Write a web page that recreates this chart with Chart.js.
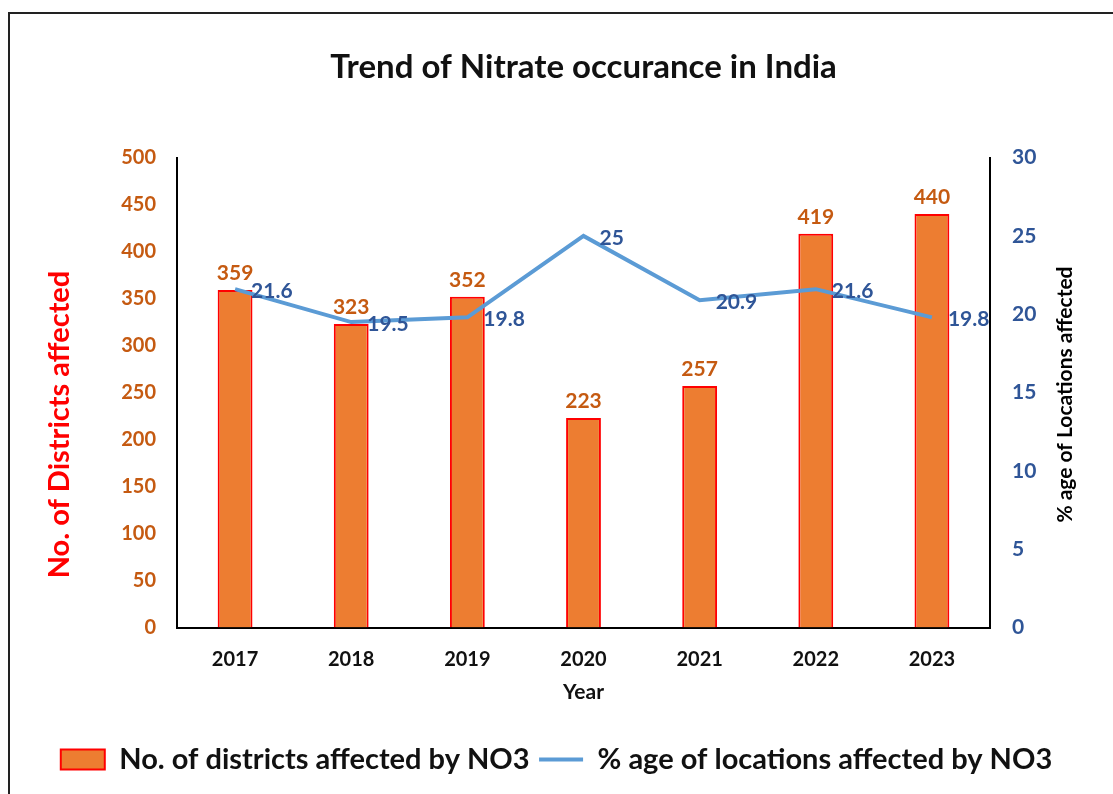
<!DOCTYPE html>
<html>
<head>
<meta charset="utf-8">
<script src="https://cdn.jsdelivr.net/npm/chart.js@4.4.1/dist/chart.umd.min.js"></script>
<style>
  html, body { margin: 0; padding: 0; background: #fff; overflow: hidden; }
  #frame { position: absolute; left: 8px; top: 12px; width: 1300px; height: 1000px; border: 2px solid #222; }
  #chart { position: absolute; left: 0; top: 0; }
</style>
</head>
<body>
<div id="frame"></div>
<canvas id="chart" width="1113" height="794"></canvas>
<script>
const years = ['2017', '2018', '2019', '2020', '2021', '2022', '2023'];
const districtsAffected = [359, 323, 352, 223, 257, 419, 440];
const locationsPct = [21.6, 19.5, 19.8, 25, 20.9, 21.6, 19.8];
const leftTicks = [0, 50, 100, 150, 200, 250, 300, 350, 400, 450, 500];
const rightTicks = [0, 5, 10, 15, 20, 25, 30];

const FONT = 'Lato, "Open Sans", sans-serif';
const ORANGE_TXT = '#C55A11';
const BLUE_TXT = '#2F5597';

// value labels above bars / right of the line points
const valueLabels = {
    id: 'valueLabels',
    afterDatasetsDraw(chart) {
        const ctx = chart.ctx;
        ctx.save();
        ctx.font = 'bold 21px ' + FONT;
        const barMeta = chart.getDatasetMeta(0);
        ctx.fillStyle = ORANGE_TXT;
        ctx.textAlign = 'center';
        ctx.textBaseline = 'bottom';
        barMeta.data.forEach((el, i) => {
            ctx.fillText(districtsAffected[i], el.x, el.y - 6);
        });
        const lineMeta = chart.getDatasetMeta(1);
        ctx.fillStyle = BLUE_TXT;
        ctx.textAlign = 'left';
        ctx.textBaseline = 'middle';
        lineMeta.data.forEach((el, i) => {
            ctx.fillText(locationsPct[i], el.x + 16, el.y + 2);
        });
        ctx.restore();
    }
};

// both side titles read bottom to top
const sideTitles = {
    id: 'sideTitles',
    afterDraw(chart) {
        const {ctx, chartArea} = chart;
        const midY = (chartArea.top + chartArea.bottom) / 2;
        ctx.save();
        ctx.textAlign = 'center';
        ctx.textBaseline = 'middle';

        ctx.save();
        ctx.translate(chartArea.left - 117, midY + 32);
        ctx.rotate(-Math.PI / 2);
        ctx.fillStyle = '#FF0000';
        ctx.font = 'bold 29px ' + FONT;
        ctx.fillText('No. of Districts affected', 0, 0);
        ctx.restore();

        ctx.save();
        ctx.translate(chartArea.right + 75, midY + 2);
        ctx.rotate(-Math.PI / 2);
        ctx.fillStyle = '#000';
        ctx.font = 'bold 21px ' + FONT;
        ctx.fillText('% age of Locations affected', 0, 0);
        ctx.restore();

        ctx.restore();
    }
};

const ctx = document.getElementById('chart').getContext('2d');
const chart = new Chart(ctx, {
    type: 'bar',
    data: {
        labels: years,
        datasets: [
            {
                label: 'No. of districts affected by NO3',
                data: districtsAffected,
                backgroundColor: '#ED7D31',
                borderColor: '#FF0000',
                borderWidth: 2,
                barPercentage: 0.3,
                categoryPercentage: 1,
                yAxisID: 'y',
                pointStyle: 'rect',
                order: 1
            },
            {
                label: '% age of locations affected by NO3',
                data: locationsPct,
                type: 'line',
                borderColor: '#5B9BD5',
                backgroundColor: '#5B9BD5',
                borderWidth: 4,
                pointRadius: 0,
                pointStyle: 'line',
                tension: 0,
                yAxisID: 'y2',
                order: 0
            }
        ]
    },
    options: {
        responsive: false,
        animation: false,
        layout: { padding: { bottom: 10 } },
        scales: {
            x: {
                grid: { display: false, drawTicks: false },
                border: { display: true, color: '#000', width: 2 },
                ticks: { color: '#111', font: { family: FONT, size: 20, weight: 'bold' }, padding: 20 },
                title: {
                    display: true,
                    text: 'Year',
                    color: '#111',
                    font: { family: FONT, size: 21, weight: 'bold' },
                    padding: { top: 6, bottom: 31 }
                },
                afterFit: function (scale) { scale.height = 108; }
            },
            y: {
                position: 'left',
                min: 0,
                max: 500,
                grid: { display: false, drawTicks: false },
                border: { display: true, color: '#000', width: 2 },
                afterBuildTicks: function (scale) {
                    scale.ticks = leftTicks.map(v => ({ value: v }));
                },
                ticks: { color: ORANGE_TXT, font: { family: FONT, size: 20, weight: 'bold' }, padding: 21 },
                afterFit: function (scale) { scale.width = 177; }
            },
            y2: {
                position: 'right',
                min: 0,
                max: 30,
                grid: { display: false, drawTicks: false },
                border: { display: true, color: '#000', width: 2 },
                afterBuildTicks: function (scale) {
                    scale.ticks = rightTicks.map(v => ({ value: v }));
                },
                ticks: { color: BLUE_TXT, font: { family: FONT, size: 21, weight: 'bold' }, padding: 22 },
                afterFit: function (scale) { scale.width = 123; }
            }
        },
        plugins: {
            title: {
                display: true,
                fullSize: false,
                text: 'Trend of Nitrate occurance in India',
                color: '#111',
                font: { family: FONT, size: 33, weight: 'bold' },
                padding: { top: 48, bottom: 70 }
            },
            legend: {
                position: 'bottom',
                labels: {
                    usePointStyle: true,
                    pointStyleWidth: 44,
                    boxHeight: 20,
                    color: '#111',
                    font: { family: FONT, size: 29, weight: 'bold' },
                    padding: 9.5,
                    sort: (a, b) => a.datasetIndex - b.datasetIndex
                }
            },
            tooltip: { enabled: false }
        }
    },
    plugins: [valueLabels, sideTitles]
});
</script>
</body>
</html>
